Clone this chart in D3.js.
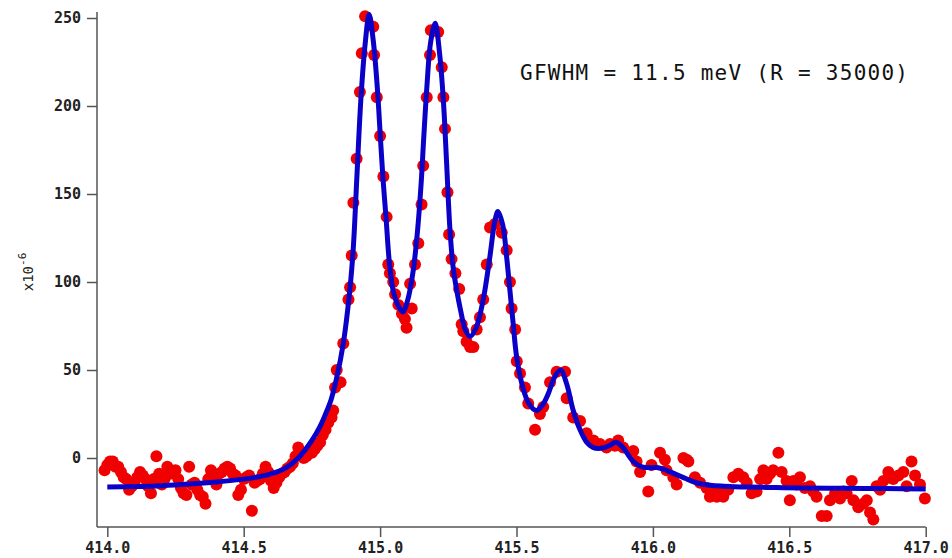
<!DOCTYPE html>
<html>
<head>
<meta charset="utf-8">
<script src="https://cdn.jsdelivr.net/npm/d3@7"></script>
<style>
  html, body { margin: 0; padding: 0; background: #ffffff; }
  svg { display: block; }
  .tick text { font-family: "DejaVu Sans Mono", monospace; }
</style>
</head>
<body>
<script>
// Photon energy (eV) of each measured point
const measuredEnergy = [
  413.99, 414.00, 414.01, 414.02, 414.03, 414.04, 414.05, 414.06, 414.07, 414.08,
  414.09, 414.10, 414.11, 414.12, 414.13, 414.14, 414.15, 414.16, 414.17, 414.18,
  414.19, 414.20, 414.21, 414.22, 414.23, 414.24, 414.25, 414.26, 414.27, 414.28,
  414.29, 414.30, 414.31, 414.32, 414.33, 414.34, 414.35, 414.36, 414.37, 414.38,
  414.39, 414.40, 414.41, 414.42, 414.43, 414.44, 414.45, 414.46, 414.47, 414.48,
  414.49, 414.50, 414.51, 414.52, 414.53, 414.54, 414.55, 414.56, 414.57, 414.58,
  414.59, 414.60, 414.61, 414.62, 414.63, 414.64, 414.65, 414.66, 414.67, 414.68,
  414.69, 414.70, 414.71, 414.72, 414.73, 414.74, 414.75, 414.76, 414.77, 414.78,
  414.79, 414.80,
  414.810, 414.822, 414.828, 414.835, 414.841, 414.855, 414.865, 414.884, 414.890, 414.896,
  414.902, 414.914, 414.926, 414.933, 414.945, 414.975, 414.978, 414.988, 415.000, 415.012,
  415.024, 415.030, 415.036, 415.048, 415.055, 415.067, 415.080, 415.091, 415.097, 415.110,
  415.116, 415.128, 415.140, 415.152, 415.158, 415.171, 415.183, 415.186, 415.213, 415.226,
  415.232, 415.238, 415.247, 415.253, 415.262, 415.276, 415.290, 415.299, 415.305, 415.317,
  415.330, 415.342, 415.354, 415.366, 415.378, 415.391, 415.403, 415.421, 415.446, 415.464,
  415.476, 415.482, 415.495, 415.501, 415.513, 415.531, 415.543, 415.568, 415.586, 415.598,
  415.623, 415.647, 415.678, 415.684, 415.708, 415.733, 415.757, 415.782, 415.806, 415.830,
  415.843, 415.861, 415.873, 415.891, 415.928, 415.940, 415.953, 415.983, 415.995, 416.026,
  416.044, 416.050, 416.075, 416.087, 416.112, 416.124, 416.130, 416.154, 416.173, 416.197,
  416.209, 416.222, 416.234, 416.246, 416.258, 416.276, 416.295, 416.313, 416.331, 416.344,
  416.362, 416.380, 416.393, 416.405, 416.417, 416.429, 416.441, 416.460, 416.472, 416.490,
  416.502, 416.515, 416.527, 416.539, 416.557, 416.576, 416.588, 416.600, 416.619, 416.637,
  416.649, 416.668, 416.686, 416.698, 416.710, 416.729, 416.735, 416.753, 416.771, 416.784,
  416.796, 416.808, 416.820, 416.833, 416.845, 416.863, 416.881, 416.900, 416.918, 416.930,
  416.948, 416.961, 416.979, 416.997
];

// Measured signal (x10^-6) at each energy
const measuredSignal = [
  -7, -4, -2, -2, -5, -5, -8, -11, -12, -18,
  -16, -14, -11, -8, -10, -12, -16, -20, -12, 1,
  -9, -15, -12, -5, -9, -8, -7, -12, -17, -20,
  -21, -5, -15, -14, -18, -21, -22, -26, -12, -7,
  -10, -15, -9, -8, -6, -5, -6, -9, -10, -21,
  -18, -12, -11, -10, -30, -14, -13, -12, -9, -5,
  -8, -13, -17, -14, -11, -9, -8, -6, -5, -3,
  1, 6, 2, 0, 1, 4, 3, 5, 7, 9,
  13, 16,
  20, 23, 27, 40, 50, 43, 65, 90, 97, 115,
  145, 170, 208, 230, 251, 245, 229, 205, 183, 160,
  137, 110, 105, 100, 93, 87, 82, 79, 74, 99,
  85, 110, 122, 144, 166, 205, 229, 243, 242, 222,
  205, 187, 151, 127, 113, 105, 96, 76, 72, 66,
  63, 63, 73, 80, 90, 110, 131, 133, 128, 118,
  100, 85, 73, 55, 48, 40, 31, 16, 25, 29,
  43, 49, 49, 34, 23, 21, 14, 10, 8, 6,
  8, 7, 10, 6, 4, -2, -8, -19, -4, 3,
  -1, -7, -11, -15, 0, -1, -2, -11, -14, -17,
  -22, -20, -22, -19, -22, -18, -11, -9, -11, -14,
  -20, -19, -12, -7, -12, -9, -7, 3, -8, -13,
  -24, -13, -15, -11, -17, -16, -19, -22, -33, -33,
  -24, -20, -23, -19, -20, -13, -24, -28, -26, -24,
  -31, -35, -16, -18, -13, -8, -12, -10, -8, -16,
  -2, -10, -15, -23
];

// Fitted spectrum (x10^-6) sampled along energy
const fitEnergy = [
  414.00, 414.10, 414.20, 414.30, 414.40, 414.50, 414.55, 414.60, 414.65, 414.70,
  414.75, 414.78, 414.80, 414.82, 414.84, 414.865, 414.89, 414.902, 414.915, 414.93,
  414.945, 414.96, 414.975, 414.99, 415.00, 415.01, 415.022, 415.034, 415.048, 415.065,
  415.083, 415.10, 415.12, 415.136, 415.15, 415.16, 415.172, 415.185, 415.202, 415.218,
  415.232, 415.244, 415.256, 415.268, 415.28, 415.295, 415.312, 415.33, 415.352, 415.378,
  415.403, 415.42, 415.432, 415.45, 415.464, 415.476, 415.488, 415.50, 415.52, 415.545,
  415.572, 415.595, 415.615, 415.64, 415.662, 415.684, 415.708, 415.733, 415.757, 415.78,
  415.81, 415.84, 415.865, 415.89, 415.928, 415.96, 415.99, 416.02, 416.05, 416.08,
  416.11, 416.14, 416.17, 416.21, 416.26, 416.35, 416.45, 416.55, 416.70, 416.85,
  417.00
];
const fitSignal = [
  -16.5, -16.2, -15.7, -14.8, -13.6, -12, -10.8, -9, -6, 0,
  10, 18, 25, 33, 45, 65, 97, 120, 160, 205,
  235, 252, 237, 210, 185, 160, 136, 111, 95, 87,
  83, 89, 105, 127, 155, 182, 212, 236, 247, 230,
  203, 167, 130, 108, 96, 84, 73, 69, 74, 90,
  115, 134, 140, 132, 114, 95, 76, 58, 42, 31,
  27, 30, 36, 46, 50, 42, 27, 16, 9, 6,
  5.5, 7, 9, 6, -2, -5, -5.5, -5.5, -7, -9,
  -11, -13, -14.5, -15.5, -16, -16.5, -16.8, -17, -17.2, -17.4,
  -17.6
];

const xTicks = [414.0, 414.5, 415.0, 415.5, 416.0, 416.5, 417.0];
const yTicks = [0, 50, 100, 150, 200, 250];
const annotation = "GFWHM = 11.5 meV (R = 35000)";

const W = 952, H = 558;
const svg = d3.select("body").append("svg").attr("width", W).attr("height", H);

const x = d3.scaleLinear().domain([414, 417]).range([107.3, 925.7]);
const y = d3.scaleLinear().domain([0, 250]).range([458, 18]);

const axisColor = "#555";
const labelFont = "DejaVu Sans Mono, monospace";

// Axis frame lines (left and bottom)
const frameLeft = 97, frameTop = 12, frameBottom = 527, frameRight = 925.7;
svg.append("line")
  .attr("x1", frameLeft).attr("x2", frameLeft)
  .attr("y1", frameTop).attr("y2", frameBottom)
  .attr("stroke", axisColor).attr("stroke-width", 1.5);
svg.append("line")
  .attr("x1", frameLeft).attr("x2", frameRight)
  .attr("y1", frameBottom).attr("y2", frameBottom)
  .attr("stroke", axisColor).attr("stroke-width", 1.5);

// Left axis
const gy = svg.append("g")
  .attr("transform", `translate(${frameLeft},0)`)
  .call(d3.axisLeft(y).tickValues(yTicks).tickSize(10).tickPadding(6).tickFormat(d3.format("d")));
gy.select(".domain").remove();
gy.selectAll(".tick line").attr("stroke", axisColor).attr("stroke-width", 1.5);
gy.selectAll(".tick text")
  .attr("fill", "#222").style("font-size", "15px").style("font-weight", "bold")
  .style("font-family", labelFont);

// Bottom axis
const gx = svg.append("g")
  .attr("transform", `translate(0,${frameBottom})`)
  .call(d3.axisBottom(x).tickValues(xTicks).tickSize(10).tickPadding(5).tickFormat(d3.format(".1f")));
gx.select(".domain").remove();
gx.selectAll(".tick line").attr("stroke", axisColor).attr("stroke-width", 1.5);
gx.selectAll(".tick text")
  .attr("fill", "#222").style("font-size", "15px").style("font-weight", "bold")
  .style("font-family", labelFont);

// Y-axis unit label
const unit = svg.append("text")
  .attr("transform", "translate(33,272) rotate(-90)")
  .attr("text-anchor", "middle")
  .attr("fill", "#222")
  .style("font-family", labelFont)
  .style("font-size", "14px");
unit.append("tspan").text("x10");
unit.append("tspan").attr("dy", -7).style("font-size", "11px").text("-6");

// Measured points
const points = measuredEnergy.map((e, i) => ({ e, v: measuredSignal[i] }));
svg.append("g")
  .selectAll("circle")
  .data(points)
  .join("circle")
  .attr("cx", d => x(d.e))
  .attr("cy", d => y(d.v))
  .attr("r", 6)
  .attr("fill", "#f00000");

// Fitted curve
const fit = fitEnergy.map((e, i) => ({ e, v: fitSignal[i] }));
svg.append("path")
  .datum(fit)
  .attr("fill", "none")
  .attr("stroke", "#0a00c8")
  .attr("stroke-width", 5)
  .attr("stroke-linejoin", "round")
  .attr("d", d3.line().x(d => x(d.e)).y(d => y(d.v)).curve(d3.curveCatmullRom.alpha(0.5)));

// Resolution annotation
svg.append("text")
  .attr("x", 520).attr("y", 80)
  .attr("textLength", 388).attr("lengthAdjust", "spacing")
  .attr("fill", "#111")
  .style("font-family", labelFont)
  .style("font-size", "21px")
  .text(annotation);
</script>
</body>
</html>
